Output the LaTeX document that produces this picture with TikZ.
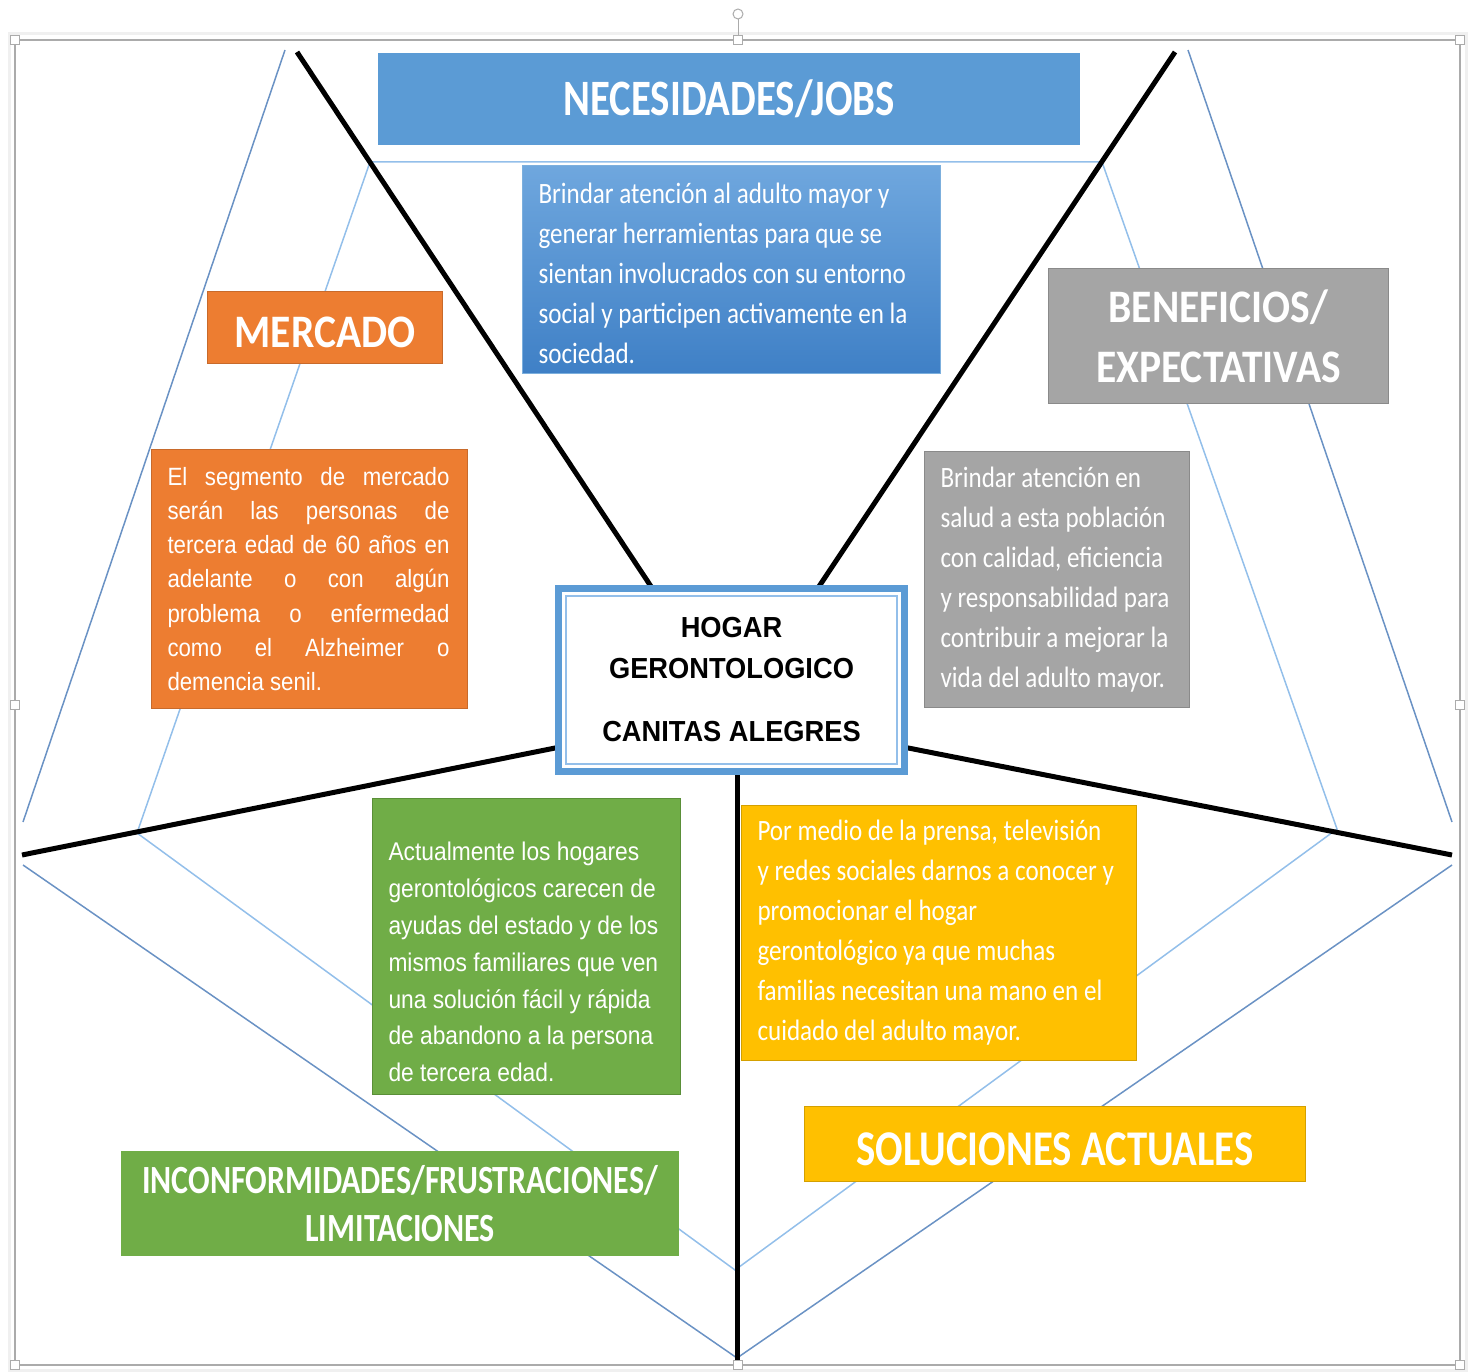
\documentclass[tikz,border=0pt]{standalone}
\usepackage{fontspec}
\setmainfont{Carlito}
\newfontfamily\headfont{Carlito}[FakeStretch=0.8]
\newfontfamily\headwide{Carlito}[FakeStretch=0.89]
\newfontfamily\bodyfont{Carlito}[FakeStretch=0.85]
\newfontfamily\arialfont{Liberation Sans}[FakeStretch=0.89]
\newfontfamily\hubfont{Liberation Sans}[FakeStretch=0.94]

\definecolor{JobsBlue}{HTML}{5B9BD5}
\definecolor{JobsBlueTop}{HTML}{6FA7DE}
\definecolor{JobsBlueBot}{HTML}{3F80C6}
\definecolor{MarketOrange}{HTML}{ED7D31}
\definecolor{MarketOrangeLine}{HTML}{C86A2B}
\definecolor{GainGrey}{HTML}{A5A5A5}
\definecolor{GainGreyLine}{HTML}{8A8A8A}
\definecolor{PainGreen}{HTML}{70AD47}
\definecolor{PainGreenLine}{HTML}{5A8F38}
\definecolor{FixYellow}{HTML}{FFC000}
\definecolor{FixYellowLine}{HTML}{D4A000}
\definecolor{WebOuter}{HTML}{6A92C4}
\definecolor{WebInner}{HTML}{93BFEA}
\definecolor{FrameGrey}{HTML}{ABABAB}

\tikzstyle{title-box}=[anchor=north west, inner sep=0pt, align=center, text=white]
\tikzstyle{text-box}=[anchor=north west, inner xsep=16pt, inner ysep=0pt, align=left, text=white,
  execute at begin node={\spaceskip=0pt \xspaceskip=0pt}]
\tikzstyle{spoke}=[line width=5pt, black]
\tikzstyle{web-outer}=[line width=1.5pt, WebOuter]
\tikzstyle{web-inner}=[line width=1.5pt, WebInner]
\tikzstyle{handle}=[draw=FrameGrey, fill=white, inner sep=0pt, minimum size=9pt, line width=1pt]

\newcommand{\tline}[1]{\mbox{#1}\\}
\newcommand{\jline}[1]{\makebox[282pt][s]{#1}\\}
\newcommand{\lowered}[1]{\raisebox{-5pt}[\height][\depth]{#1}}

\begin{document}
\begin{tikzpicture}[x=1pt, y=-1pt]
  \useasboundingbox (0,0) rectangle (1473,1372);

  % selection frame
  \draw[line width=3pt, gray!12] (9,34) rectangle (1466,1370);
  \draw[line width=1.5pt, FrameGrey] (15,40) rectangle (1460,1365);

  % web behind the canvas
  \coordinate (out-tl) at (285,50);
  \coordinate (out-l1) at (23,822);
  \coordinate (out-l2) at (23,865);
  \coordinate (out-b)  at (737,1358);
  \coordinate (out-r2) at (1452,865);
  \coordinate (out-r1) at (1452,822);
  \coordinate (out-tr) at (1188,50);
  \coordinate (in-tl) at (370,162);
  \coordinate (in-tr) at (1102,162);
  \coordinate (in-r)  at (1337,829);
  \coordinate (in-b)  at (735,1270);
  \coordinate (in-l)  at (137,833);

  \draw[web-outer] (out-tl) -- (out-l1);
  \draw[web-outer] (out-l2) -- (out-b) -- (out-r2);
  \draw[web-outer] (out-r1) -- (out-tr);
  \draw[web-inner] (in-tl) -- (in-tr) -- (in-r) -- (in-b) -- (in-l) -- cycle;

  % spokes
  \coordinate (end-tl) at (297,52);
  \coordinate (end-tr) at (1175,52);
  \coordinate (end-l)  at (22,855);
  \coordinate (end-r)  at (1452,855);
  \coordinate (end-b)  at (737,1360);
  \coordinate (hub-tl) at (660,600);
  \coordinate (hub-tr) at (810,600);
  \coordinate (hub-l)  at (570,745);
  \coordinate (hub-r)  at (893,745);
  \coordinate (hub-b)  at (737,760);

  \draw[spoke] (end-tl) -- (hub-tl);
  \draw[spoke] (end-tr) -- (hub-tr);
  \draw[spoke] (end-l) -- (hub-l);
  \draw[spoke] (end-r) -- (hub-r);
  \draw[spoke] (end-b) -- (hub-b);

  % headings
  \node (jobs-title) at (378,53) [title-box, fill=JobsBlue, minimum width=702pt, minimum height=92pt, font={\headfont\bfseries\fontsize{51}{60}\selectfont}] {NECESIDADES/JOBS};
  \node (market-title) at (207,291) [title-box, fill=MarketOrange, draw=MarketOrangeLine, line width=1pt, minimum width=235pt, minimum height=72pt, font={\headwide\bfseries\fontsize{46.6}{56}\selectfont}] {\lowered{MERCADO}};
  \node (gain-title) at (1048,268) [title-box, fill=GainGrey, draw=GainGreyLine, line width=1pt, minimum width=340pt, minimum height=135pt, font={\headwide\bfseries\fontsize{46.6}{60}\selectfont}] {BENEFICIOS/\\EXPECTATIVAS};
  \node (fix-title) at (804,1106) [title-box, fill=FixYellow, draw=FixYellowLine, line width=1pt, minimum width=501pt, minimum height=75pt, font={\headfont\bfseries\fontsize{50}{60}\selectfont\addfontfeature{FakeStretch=0.815}}] {\lowered{SOLUCIONES ACTUALES}};
  \node (pain-title) at (121,1151) [title-box, fill=PainGreen, minimum width=558pt, minimum height=105pt, font={\headfont\bfseries\fontsize{40}{48}\selectfont}] {INCONFORMIDADES/FRUSTRACIONES/\\LIMITACIONES};

  % descriptions
  \node (jobs-text) at (522,165) [text-box, top color=JobsBlueTop, bottom color=JobsBlueBot, draw=JobsBlue!80, line width=1pt, text width=386pt, minimum height=208pt, font={\bodyfont\fontsize{29.5}{40}\selectfont}]
    {\rule{0pt}{28pt}\tline{Brindar atención al adulto mayor y}\tline{generar herramientas para que se}\tline{sientan involucrados con su entorno}\tline{social y participen activamente en la}\mbox{sociedad.}};
  \node (market-text) at (151,449) [text-box, fill=MarketOrange, draw=MarketOrangeLine, line width=1pt, text width=284pt, minimum height=259pt, font={\arialfont\fontsize{25}{34.3}\selectfont}]
    {\jline{El segmento de mercado}\jline{serán las personas de}\jline{tercera edad de 60 años en}\jline{adelante o con algún}\jline{problema o enfermedad}\jline{como el Alzheimer o}\mbox{demencia senil.}};
  \node (gain-text) at (924,451) [text-box, fill=GainGrey, draw=GainGreyLine, line width=1pt, text width=233pt, minimum height=256pt, font={\bodyfont\fontsize{29.5}{40}\selectfont}]
    {\tline{Brindar atención en}\tline{salud a esta población}\tline{con calidad, eficiencia}\tline{y responsabilidad para}\tline{contribuir a mejorar la}\mbox{vida del adulto mayor.}};
  \node (pain-text) at (372,798) [text-box, fill=PainGreen, draw=PainGreenLine, line width=1pt, text width=276pt, minimum height=296pt, font={\arialfont\fontsize{25.6}{36.8}\selectfont}]
    {\rule{0pt}{50pt}\tline{Actualmente los hogares}\tline{gerontológicos carecen de}\tline{ayudas del estado y de los}\tline{mismos familiares que ven}\tline{una solución fácil y rápida}\tline{de abandono a la persona}\mbox{de tercera edad.}};
  \node (fix-text) at (741,805) [text-box, fill=FixYellow, draw=FixYellowLine, line width=1pt, text width=363pt, minimum height=255pt, font={\bodyfont\fontsize{29.5}{40}\selectfont}]
    {\tline{Por medio de la prensa, televisión}\tline{y redes sociales darnos a conocer y}\tline{promocionar el hogar}\tline{gerontológico ya que muchas}\tline{familias necesitan una mano en el}\mbox{cuidado del adulto mayor.}};

  % centre
  \node (hub) at (558.5,588.5) [anchor=north west, draw=JobsBlue, line width=7pt, outer sep=0pt, fill=white, minimum width=346pt, minimum height=183pt, align=center, font={\hubfont\bfseries\fontsize{29}{41}\selectfont}]
    {HOGAR\\GERONTOLOGICO\\[22pt]CANITAS ALEGRES};
  \draw[WebInner, line width=1.5pt] ([xshift=7.5pt,yshift=-7.5pt]hub.north west) rectangle ([xshift=-7.5pt,yshift=7.5pt]hub.south east);

  % frame handles
  \foreach \gx/\gy [count=\i] in {15/40, 738/40, 1460/40, 15/705, 1460/705, 15/1365, 738/1365, 1460/1365}
    \node[handle] (grip-\i) at (\gx,\gy) {};
  \node[handle, circle, minimum size=10pt] (grip-rot) at (738,14) {};
  \draw[FrameGrey, line width=1pt] (grip-rot) -- (grip-2);
\end{tikzpicture}
\end{document}
